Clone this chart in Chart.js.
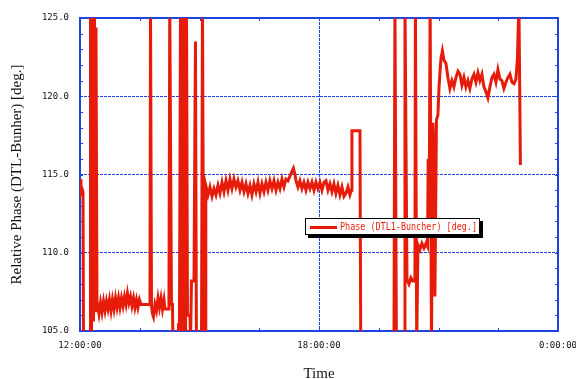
<!DOCTYPE html>
<html>
<head>
<meta charset="utf-8">
<script src="https://cdn.jsdelivr.net/npm/chart.js@4.4.1/dist/chart.umd.min.js"></script>
<style>
  html, body { margin: 0; padding: 0; background: #fff; }
  #wrap { width: 576px; height: 379px; }
</style>
</head>
<body>
<div id="wrap"><canvas id="phaseChart" width="576" height="379"></canvas></div>
<script>
// minutes after 12:00:00
const minutes = [
  0, 1.5, 3.0, 4.5, 5.3, 15.1, 15.8, 17.3, 18.8, 20.3, 21.8, 23.3, 24.1, 25.6,
  26.4, 28.6, 30.9, 33.1, 35.4, 37.7, 39.9, 42.2, 44.4, 46.7, 48.9, 51.2, 53.5, 55.7,
  58.0, 60.2, 62.5, 64.8, 67.0, 69.3, 71.5, 73.8, 76.1, 78.3, 80.6, 82.8, 85.1, 87.3,
  89.6, 91.9, 105.4, 106.2, 107.7, 109.2, 110.7, 112.9, 115.2, 117.5, 119.7, 122.0, 124.2, 126.5,
  128.0, 134.0, 135.2, 137.8, 139.3, 140.1, 147.6, 148.4, 149.8, 151.4, 152.9, 154.4, 155.9, 157.4,
  158.9, 160.4, 161.9, 165.7, 166.4, 167.9, 171.7, 173.9, 175.4, 183.0, 184.5, 186.4, 188.3, 189.5,
  192.8, 195.8, 198.8, 201.8, 204.8, 207.8, 210.8, 213.9, 216.9, 219.9, 222.9, 225.9, 228.9, 231.9,
  234.9, 237.9, 241.0, 244.0, 247.0, 250.0, 253.0, 256.0, 259.0, 262.0, 265.1, 268.1, 271.1, 274.1,
  277.1, 280.1, 283.1, 286.1, 289.2, 292.2, 295.2, 298.2, 301.2, 304.2, 307.2, 310.2, 313.2, 316.3,
  319.3, 321.5, 323.8, 325.3, 328.3, 331.3, 334.3, 337.3, 340.4, 343.4, 346.4, 349.4, 352.4, 355.4,
  358.4, 361.4, 364.5, 367.5, 370.5, 373.5, 376.5, 379.5, 382.5, 385.5, 388.5, 391.6, 394.6, 397.6,
  400.6, 403.6, 406.6, 408.9, 409.6, 421.7, 422.9, 472.9, 474.4, 476.6, 488.7, 489.5, 492.5, 495.5,
  498.5, 501.5, 504.5, 505.2, 507.2, 509.0, 512.0, 515.0, 518.1, 521.1, 523.4, 524.5, 525.9, 527.4,
  529.4, 531.6, 533.1, 534.6, 536.9, 539.1, 540.7, 542.2, 543.7, 545.9, 548.2, 551.2, 554.2, 557.2,
  560.2, 563.2, 566.3, 569.3, 572.3, 575.3, 578.3, 581.3, 584.3, 587.3, 590.4, 593.4, 596.4, 599.4,
  602.4, 605.4, 608.4, 611.4, 614.4, 617.5, 620.5, 623.5, 626.5, 629.5, 632.5, 635.5, 638.5, 641.6,
  644.6, 647.6, 650.6, 653.6, 656.6, 658.9, 661.1, 663.4
];
// relative phase [deg.], values outside 105..125 are off scale
const phase = [
  114.7, 113.9, 114.1, 113.9, 104, 104, 126, 104, 126, 105.6, 126, 106.3, 124.4, 106.4,
  106.7, 106.1, 106.8, 106.2, 106.9, 106.3, 106.9, 106.4, 107.0, 106.3, 107.0, 106.4, 107.1, 106.5,
  107.1, 106.5, 107.1, 106.6, 107.2, 106.7, 107.4, 106.8, 107.2, 106.6, 107.1, 106.5, 107.0, 106.5,
  107.0, 106.7, 106.7, 126, 106.6, 106.1, 105.9, 106.7, 106.3, 107.1, 106.5, 107.1, 106.4, 107.0,
  106.4, 106.4, 126, 106.7, 106.7, 104, 104, 105.4, 105.4, 126, 104, 126, 104, 126,
  104, 126, 106.0, 106.0, 104, 108.2, 108.2, 123.5, 104, 104, 126, 104, 104, 114.3,
  113.7, 114.2, 113.6, 114.1, 113.7, 114.3, 113.8, 114.5, 113.9, 114.6, 114.0, 114.7, 114.1, 114.7,
  114.2, 114.6, 114.0, 114.5, 113.9, 114.4, 113.8, 114.3, 113.7, 114.4, 113.9, 114.5, 113.8, 114.4,
  113.9, 114.5, 114.0, 114.6, 114.1, 114.6, 114.0, 114.5, 114.1, 114.7, 114.2, 114.7, 114.6, 114.9,
  115.2, 115.4, 115.0, 114.6, 114.2, 114.6, 114.1, 114.5, 114.0, 114.5, 114.1, 114.5, 114.0, 114.5,
  114.1, 114.5, 114.0, 114.5, 114.6, 114.0, 114.4, 113.9, 114.4, 113.8, 114.3, 113.7, 114.2, 113.6,
  113.8, 114.2, 113.7, 114.0, 117.8, 117.8, 104, 104, 126, 104, 104, 126, 108.3, 108.0,
  108.4, 108.2, 108.2, 126, 104, 110.5, 110.2, 110.6, 110.3, 110.6, 110.4, 116.0, 112.3, 126,
  104, 118.3, 116.4, 107.2, 118.5, 118.8, 120.5, 121.5, 122.4, 122.9, 122.3, 122.1, 121.2, 120.5,
  121.0, 120.6, 121.2, 121.6, 121.4, 120.7, 121.2, 120.6, 121.0, 120.5, 121.1, 121.4, 120.9, 121.5,
  121.0, 121.4, 120.6, 120.3, 119.9, 120.6, 121.2, 121.4, 120.9, 121.7, 121.1, 121.0, 120.5, 120.9,
  121.2, 121.4, 120.9, 120.8, 121.1, 122.4, 126, 115.6
];
const timeTicks = [0, 360, 720];
const timeLabels = ['12:00:00', '18:00:00', '0:00:00'];
const phaseTicks = [105, 110, 115, 120, 125];
const seriesName = 'Phase (DTL1-Buncher) [deg.]';

const RED = '#e61b0a';
const BLUE = '#1f45e0';
const tickFont = { family: '"DejaVu Sans Mono", monospace', size: 9 };

// frame, inner minor ticks and the boxed legend
const framePlugin = {
  id: 'frame',
  beforeDatasetsDraw(chart) {
    const { ctx, chartArea: a, scales: { x, y } } = chart;
    ctx.save();
    ctx.strokeStyle = BLUE;
    ctx.lineWidth = 1;
    ctx.beginPath();
    for (let m = 90; m < 720; m += 90) {
      const px = Math.round(x.getPixelForValue(m)) + 0.5;
      ctx.moveTo(px, a.top); ctx.lineTo(px, a.top + 3);
      ctx.moveTo(px, a.bottom); ctx.lineTo(px, a.bottom - 3);
    }
    for (let v = 106; v < 125; v++) {
      const py = Math.round(y.getPixelForValue(v)) + 0.5;
      ctx.moveTo(a.left, py); ctx.lineTo(a.left + 3, py);
      ctx.moveTo(a.right, py); ctx.lineTo(a.right - 3, py);
    }
    ctx.stroke();
    ctx.lineWidth = 2;
    ctx.strokeRect(a.left, a.top, a.right - a.left, a.bottom - a.top);
    ctx.restore();
  },
  afterDraw(chart) {
    const { ctx } = chart;
    const bx = 305, by = 218, bw = 175, bh = 17;
    ctx.save();
    ctx.fillStyle = '#000';
    ctx.fillRect(bx + 3, by + 3, bw, bh);
    ctx.fillStyle = '#fff';
    ctx.fillRect(bx, by, bw, bh);
    ctx.strokeStyle = '#000';
    ctx.lineWidth = 1;
    ctx.strokeRect(bx + 0.5, by + 0.5, bw - 1, bh - 1);
    ctx.strokeStyle = RED;
    ctx.lineWidth = 3;
    ctx.beginPath();
    ctx.moveTo(bx + 5, by + 9.5); ctx.lineTo(bx + 32, by + 9.5);
    ctx.stroke();
    ctx.fillStyle = RED;
    ctx.font = '10px "DejaVu Sans Mono", monospace';
    ctx.textBaseline = 'middle';
    ctx.fillText(seriesName, bx + 35, by + 9, 137);
    ctx.restore();
  }
};

new Chart(document.getElementById('phaseChart'), {
  type: 'line',
  data: {
    datasets: [{
      label: seriesName,
      data: minutes.map((m, i) => ({ x: m, y: phase[i] })),
      borderColor: RED,
      borderWidth: 3,
      pointRadius: 0,
      tension: 0,
      clip: 0
    }]
  },
  options: {
    responsive: false,
    animation: false,
    layout: { padding: { top: 18, right: 18, left: 0, bottom: 0 } },
    plugins: { legend: { display: false }, tooltip: { enabled: false } },
    scales: {
      x: {
        type: 'linear',
        min: 0,
        max: 720,
        afterBuildTicks: (s) => { s.ticks = timeTicks.map((v) => ({ value: v })); },
        afterFit: (s) => { s.height = 48; s.paddingLeft = 0; s.paddingRight = 0; },
        ticks: {
          font: tickFont,
          color: '#111',
          padding: 9,
          maxRotation: 0,
          callback: (v) => timeLabels[timeTicks.indexOf(v)]
        },
        grid: {
          drawTicks: false,
          lineWidth: 1,
          color: (c) => (c.tick && c.tick.value === 360 ? BLUE : 'rgba(0,0,0,0)')
        },
        border: { display: false, dash: [3, 1] },
        title: {
          display: true,
          text: 'Time',
          color: '#111',
          font: { family: '"Liberation Serif", serif', size: 15, lineHeight: 1 },
          padding: { top: 0, bottom: -2.5 }
        }
      },
      y: {
        min: 105,
        max: 125,
        afterBuildTicks: (s) => { s.ticks = phaseTicks.map((v) => ({ value: v })); },
        afterFit: (s) => { s.width = 80; s.paddingTop = 0; s.paddingBottom = 0; },
        ticks: {
          font: tickFont,
          color: '#111',
          padding: 11,
          callback: (v) => v.toFixed(1)
        },
        grid: {
          drawTicks: false,
          lineWidth: 1,
          color: (c) => (c.tick && (c.tick.value === 105 || c.tick.value === 125) ? 'rgba(0,0,0,0)' : BLUE)
        },
        border: { display: false, dash: [3, 1] },
        title: {
          display: true,
          text: 'Relative Phase (DTL-Bunher) [deg.]',
          color: '#111',
          font: { family: '"Liberation Serif", serif', size: 15, lineHeight: 1 },
          padding: { top: 9.5, bottom: 0 }
        }
      }
    }
  },
  plugins: [framePlugin]
});
</script>
</body>
</html>
